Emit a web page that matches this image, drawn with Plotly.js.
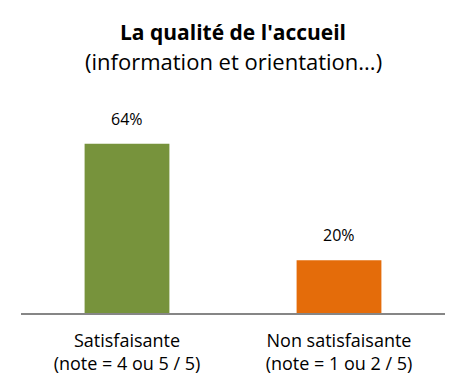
<!DOCTYPE html>
<html><head><meta charset="utf-8">
<script src="https://cdn.plot.ly/plotly-3.0.1.min.js"></script>
<style>html,body{margin:0;padding:0;background:#fff}#c{width:464px;height:390px}</style>
</head><body><div id="c"></div>
<script>
var categories = ["Satisfaisante<br>(note = 4 ou 5 / 5)", "Non satisfaisante<br>(note = 1 ou 2 / 5)"];
var values = [64, 20];
var labels = ["64%", "20%"];
var colors = ["#77933C", "#E46C0A"];
var titleLine1 = "La qualité de l'accueil";
var titleLine2 = "(information et orientation...)";

var F = "'Open Sans', sans-serif";
var trace = {
  type: "bar", x: categories, y: values,
  marker: {color: colors}, hoverinfo: "none"
};
var annotations = values.map(function (v, i) {
  return {x: categories[i], y: v, xref: "x", yref: "y", text: labels[i], showarrow: false,
    yanchor: "bottom", yshift: 12, font: {family: F, size: 16, color: "#000"}};
});
annotations.push({xref: "paper", yref: "paper", x: 0.5, y: 1, yshift: 96, text: "<b>" + titleLine1 + "</b>",
  showarrow: false, yanchor: "middle", font: {family: F, size: 21, color: "#000"}, xanchor: "center"});
annotations.push({xref: "paper", yref: "paper", x: 0.5, y: 1, yshift: 67, text: titleLine2,
  showarrow: false, yanchor: "middle", font: {family: F, size: 22, color: "#000"}, xanchor: "center"});
var layout = {
  width: 464, height: 390,
  margin: {l: 21, r: 19, t: 128, b: 77},
  paper_bgcolor: "#fff", plot_bgcolor: "#fff",
  bargap: 0.6, showlegend: false,
  font: {family: F, color: "#000"},
  annotations: annotations,
  xaxis: {showgrid: false, zeroline: false, showline: true, linecolor: "#868686", linewidth: 2,
    ticks: "", ticklabelstandoff: 10, tickfont: {family: F, size: 18, color: "#000"}, fixedrange: true},
  yaxis: {range: [0, 70], showgrid: false, zeroline: false, showticklabels: false, showline: false, ticks: ""}
};
Plotly.newPlot("c", [trace], layout, {displayModeBar: false, staticPlot: true});
</script></body></html>
